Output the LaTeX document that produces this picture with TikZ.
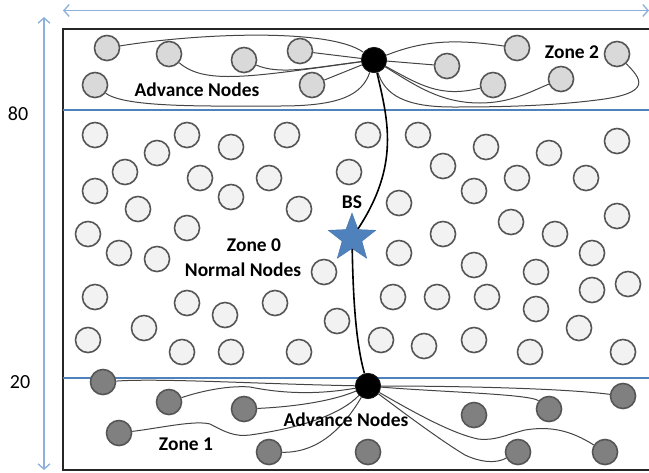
\documentclass[tikz,border=0pt]{standalone}
\usepackage{fontspec}
\setmainfont{Carlito}
\usetikzlibrary{arrows.meta,shapes.geometric}
\definecolor{ringc}{HTML}{555555}
\definecolor{zonelinec}{HTML}{4F81BD}
\definecolor{dimc}{HTML}{8DB0DC}
\definecolor{starc}{HTML}{4F81BD}
\definecolor{linkc}{HTML}{444444}
\tikzset{
  sensor/.style={circle,draw=ringc,line width=1.2pt,minimum size=18.8pt,inner sep=0pt},
  normalnode/.style={sensor,fill=black!5},
  topnode/.style={sensor,fill=black!15},
  lownode/.style={sensor,fill=black!50},
  hub/.style={circle,fill=black,draw=black!90,line width=.6pt,minimum size=19pt,inner sep=0pt},
  link/.style={draw=linkc,line width=.75pt},
  trunk/.style={draw=black,line width=1.2pt},
  zoneline/.style={draw=zonelinec,line width=1.2pt},
  dimline/.style={draw=dimc,line width=1pt,{Straight Barb[length=4pt,width=9pt]}-{Straight Barb[length=4pt,width=9pt]}},
  boldlabel/.style={font=\bfseries\fontsize{14.6}{16}\selectfont,inner sep=0pt,text=black},
  numlabel/.style={font=\fontsize{15}{17}\selectfont,inner sep=0pt,text=black}
}
\begin{document}
\begin{tikzpicture}[x=0.75pt,y=-0.75pt]
\useasboundingbox (0,0) rectangle (649,472);
% dimension arrows
\coordinate (dl) at (63,10.5); \coordinate (dr) at (649,10.5);
\coordinate (vt) at (44,17); \coordinate (vb) at (44,470);
\draw[dimline] (dl) -- (dr);
\draw[dimline] (vt) -- (vb);
% frame
\coordinate (fa) at (649,29); \coordinate (fb) at (63,29); \coordinate (fc) at (63,470); \coordinate (fd) at (649,470);
\draw[draw=black!85,line width=1.5pt] (fa) -- (fb) -- (fc) -- (fd);
% zone lines
\coordinate (za) at (63,110); \coordinate (zb) at (649,110);
\coordinate (zc) at (63,378); \coordinate (zd) at (649,378);
\draw[zoneline] (za) -- (zb);
\draw[zoneline] (zc) -- (zd);
% normal nodes
\foreach \i/\p in {1/{95,135},2/{187,135},3/{231,147},4/{287,135},5/{157,153},6/{125,172},7/{95,191},8/{200,178},9/{269,178},10/{231,197},11/{138,209},12/{299,209},13/{187,228},14/{88,234},15/{119,253},16/{157,259},17/{324,272},18/{95,297},19/{187,303},20/{275,303},21/{225,315},22/{144,328},23/{337,321},24/{88,340},25/{182,352},26/{231,352},27/{299,352},28/{368,135},29/{418,135},30/{349,172},31/{486,147},32/{549,153},33/{617,141},34/{443,166},35/{474,191},36/{517,178},37/{586,178},38/{399,203},39/{617,216},40/{511,222},41/{443,234},42/{555,234},43/{399,253},44/{592,253},45/{474,265},46/{536,272},47/{393,297},48/{437,297},49/{487,297},50/{592,290},51/{628,284},52/{536,309},53/{579,328},54/{381,340},55/{424,346},56/{474,340},57/{530,352},58/{623,352}}
  \node[normalnode] (n\i) at (\p) {};
% zone 2 nodes
\foreach \i/\p in {1/{107,48},2/{169,54},3/{244,60},4/{300,51},5/{312,85},6/{95,85},7/{447,66},8/{517,48},9/{493,85},10/{561,79},11/{617,54}}
  \node[topnode] (t\i) at (\p) {};
% zone 1 nodes
\foreach \i/\p in {1/{103,382},2/{169,402},3/{244,409},4/{119,433},5/{269,452},6/{623,396},7/{549,409},8/{605,452},9/{518,452},10/{474,415},11/{368,452}}
  \node[lownode] (b\i) at (\p) {};
\node[hub] (hubT) at (374,60) {};
\node[hub] (hubB) at (368,386) {};
\node[star,star points=5,star point ratio=2.4,fill=starc,draw=starc!90!black,line width=.3pt,minimum size=37.5pt,inner sep=0pt] (bs) at (352,238) {};
% zone 2 links
\draw[link] (t1) .. controls (200,33) and (330,28) .. (hubT);
\draw[link] (t2) .. controls (205,85) and (250,77) .. (hubT);
\draw[link] (t3) .. controls (280,75) and (310,68) .. (hubT);
\draw[link] (t4) -- (hubT);
\draw[link] (t5) -- (hubT);
\draw[link] (t6) .. controls (125,108) and (210,106) .. (280,106) .. controls (340,106) and (362,95) .. (hubT);
\draw[link] (t7) -- (hubT);
\draw[link] (t8) .. controls (450,38) and (420,42) .. (hubT);
\draw[link] (t9) .. controls (440,98) and (420,85) .. (hubT);
\draw[link] (t10) .. controls (530,92) and (510,103) .. (480,103) .. controls (440,103) and (415,85) .. (hubT);
\draw[link] (t11) .. controls (640,78) and (655,93) .. (597,100) .. controls (550,106) and (500,107) .. (453,107) .. controls (405,107) and (385,95) .. (hubT);
% zone 1 links
\draw[link] (b1) .. controls (160,378) and (260,384) .. (hubB);
\draw[link] (b2) .. controls (195,393) and (225,385) .. (250,387) .. controls (275,392) and (310,396) .. (hubB);
\draw[link] (b3) .. controls (290,407) and (330,402) .. (hubB);
\draw[link] (b4) .. controls (160,428) and (195,420) .. (210,424) .. controls (225,432) and (235,437) .. (250,435) .. controls (300,428) and (340,415) .. (hubB);
\draw[link] (b5) .. controls (320,453) and (345,425) .. (hubB);
\draw[link] (b6) .. controls (560,388) and (450,386) .. (hubB);
\draw[link] (b7) .. controls (530,394) and (440,392) .. (hubB);
\draw[link] (b8) .. controls (570,430) and (550,426) .. (525,430) .. controls (505,435) and (495,441) .. (478,439) .. controls (450,433) and (410,410) .. (hubB);
\draw[link] (b9) .. controls (495,464) and (480,462) .. (465,455) .. controls (440,440) and (400,410) .. (hubB);
% trunks
\draw[trunk] (hubT) .. controls (388,120) and (400,165) .. (bs);
\draw[trunk] (bs) .. controls (353,290) and (355,340) .. (hubB);
% labels
\node[boldlabel] (l1) at (197,90) {Advance Nodes};
\node[boldlabel] (l2) at (572,52) {Zone 2};
\node[boldlabel] (l3) at (254,245) {Zone 0};
\node[boldlabel] (l4) at (243,270) {Normal Nodes};
\node[boldlabel] (l5) at (352,202) {BS};
\node[boldlabel] (l6) at (186,444) {Zone 1};
\node[boldlabel] (l7) at (346,420) {Advance Nodes};
\node[numlabel] (l8) at (18,114) {80};
\node[numlabel] (l9) at (20,382) {20};
\end{tikzpicture}
\end{document}
